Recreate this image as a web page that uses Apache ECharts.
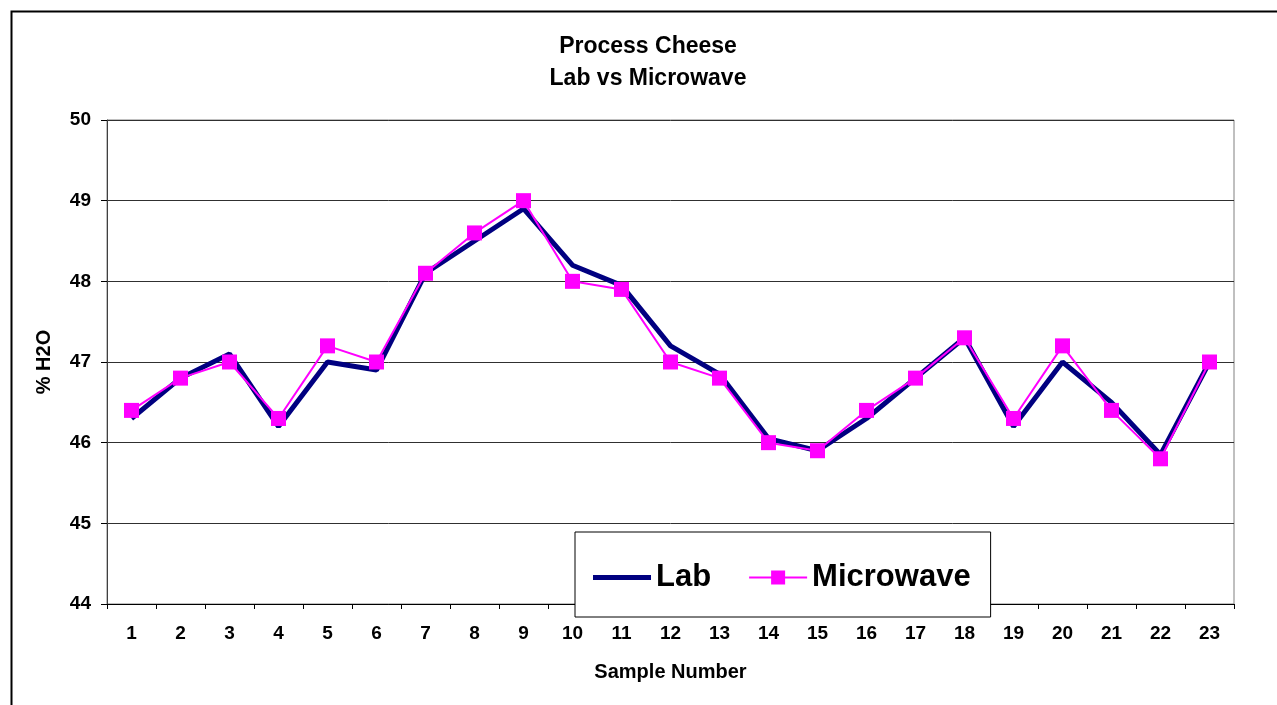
<!DOCTYPE html>
<html>
<head>
<meta charset="utf-8">
<title>Process Cheese - Lab vs Microwave</title>
<script src="https://cdn.jsdelivr.net/npm/echarts@6/dist/echarts.min.js"></script>
<style>
  html, body { margin: 0; padding: 0; background: #fff; }
  #chart { width: 1277px; height: 705px; }
</style>
</head>
<body>
<div id="chart"></div>
<script>
// sample numbers on the x axis
var samples = ['1', '2', '3', '4', '5', '6', '7', '8', '9', '10', '11', '12',
  '13', '14', '15', '16', '17', '18', '19', '20', '21', '22', '23']
// % H2O by lab method
var labValues = [46.3, 46.8, 47.1, 46.2, 47.0, 46.9, 48.1, 48.5, 48.9, 48.2, 47.95, 47.2,
  46.85, 46.05, 45.9, 46.3, 46.8, 47.3, 46.2, 47.0, 46.5, 45.85, 47.0]
// % H2O by microwave method
var microwaveValues = [46.4, 46.8, 47.0, 46.3, 47.2, 47.0, 48.1, 48.6, 49.0, 48.0, 47.9, 47.0,
  46.8, 46.0, 45.9, 46.4, 46.8, 47.3, 46.3, 47.2, 46.4, 45.8, 47.0]
// y axis range
var yMin = 44
var yMax = 50
var yStep = 1

var font = 'Arial, "Liberation Sans", sans-serif'

var chart = echarts.init(document.getElementById('chart'))
var option = {
  backgroundColor: '#fff',
  animation: false,
  textStyle: { fontFamily: font },
  title: {
    text: 'Process Cheese\nLab vs Microwave',
    left: 643,
    top: 26,
    textAlign: 'center',
    textStyle: {
      fontFamily: font,
      fontSize: 23,
      fontWeight: 'bold',
      color: '#000',
      lineHeight: 32
    }
  },
  graphic: [{
    // outer chart frame (runs off the right and bottom edges)
    type: 'rect',
    left: 9,
    top: 9,
    shape: { width: 1300, height: 800 },
    style: { fill: 'none', stroke: '#000', lineWidth: 2 },
    z: 0
  }],
  grid: {
    left: 107,
    right: 43,
    top: 120,
    bottom: 101,
    show: true,
    borderColor: '#808080',
    borderWidth: 1
  },
  legend: {
    left: 575,
    top: 532,
    orient: 'horizontal',
    padding: [30, 20, 24, 18],
    itemGap: 38,
    itemWidth: 58,
    itemHeight: 14,
    backgroundColor: '#fff',
    borderColor: '#000',
    borderWidth: 1,
    z: 10,
    textStyle: {
      fontFamily: font,
      fontSize: 31,
      fontWeight: 'bold',
      color: '#000'
    },
    data: [
      // thick plain line for Lab, no marker
      { name: 'Lab', icon: 'path://M0,4.5L58,4.5L58,9.5L0,9.5Z M0,0L0.01,0 M0,14L0.01,14', itemStyle: { color: '#000080' } },
      // thin line with a square marker
      { name: 'Microwave', icon: 'path://M0,6L22,6L22,0L36,0L36,6L58,6L58,8L36,8L36,14L22,14L22,8L0,8Z', itemStyle: { color: '#FF00FF' } }
    ]
  },
  xAxis: {
    type: 'category',
    data: samples,
    boundaryGap: true,
    name: 'Sample Number',
    nameLocation: 'middle',
    nameGap: 58,
    nameTextStyle: {
      fontFamily: font,
      fontSize: 20,
      fontWeight: 'bold',
      color: '#000'
    },
    axisLine: { show: true, lineStyle: { color: '#000', width: 1 } },
    axisTick: { show: true, length: 5, alignWithLabel: false, lineStyle: { color: '#000' } },
    axisLabel: {
      margin: 20,
      fontFamily: font,
      fontSize: 19,
      fontWeight: 'bold',
      color: '#000',
      interval: 0
    },
    splitLine: { show: false }
  },
  yAxis: {
    type: 'value',
    min: yMin,
    max: yMax,
    interval: yStep,
    name: '% H2O',
    nameLocation: 'middle',
    nameGap: 53,
    nameRotate: 90,
    nameTextStyle: {
      fontFamily: font,
      fontSize: 20,
      fontWeight: 'bold',
      color: '#000'
    },
    axisLine: { show: true, lineStyle: { color: '#404040', width: 1 } },
    axisTick: { show: true, length: 6, lineStyle: { color: '#000' } },
    axisLabel: {
      margin: 16,
      fontFamily: font,
      fontSize: 19,
      fontWeight: 'bold',
      color: '#000'
    },
    splitLine: { show: true, lineStyle: { color: '#303030', width: 1 } }
  },
  series: [
    {
      name: 'Lab',
      type: 'line',
      data: labValues,
      symbol: 'none',
      lineStyle: { color: '#000080', width: 5 },
      itemStyle: { color: '#000080' },
      z: 3
    },
    {
      name: 'Microwave',
      type: 'line',
      data: microwaveValues,
      symbol: 'rect',
      symbolSize: 15,
      lineStyle: { color: '#FF00FF', width: 2 },
      itemStyle: { color: '#FF00FF' },
      z: 4
    }
  ]
}
chart.setOption(option)
</script>
</body>
</html>
